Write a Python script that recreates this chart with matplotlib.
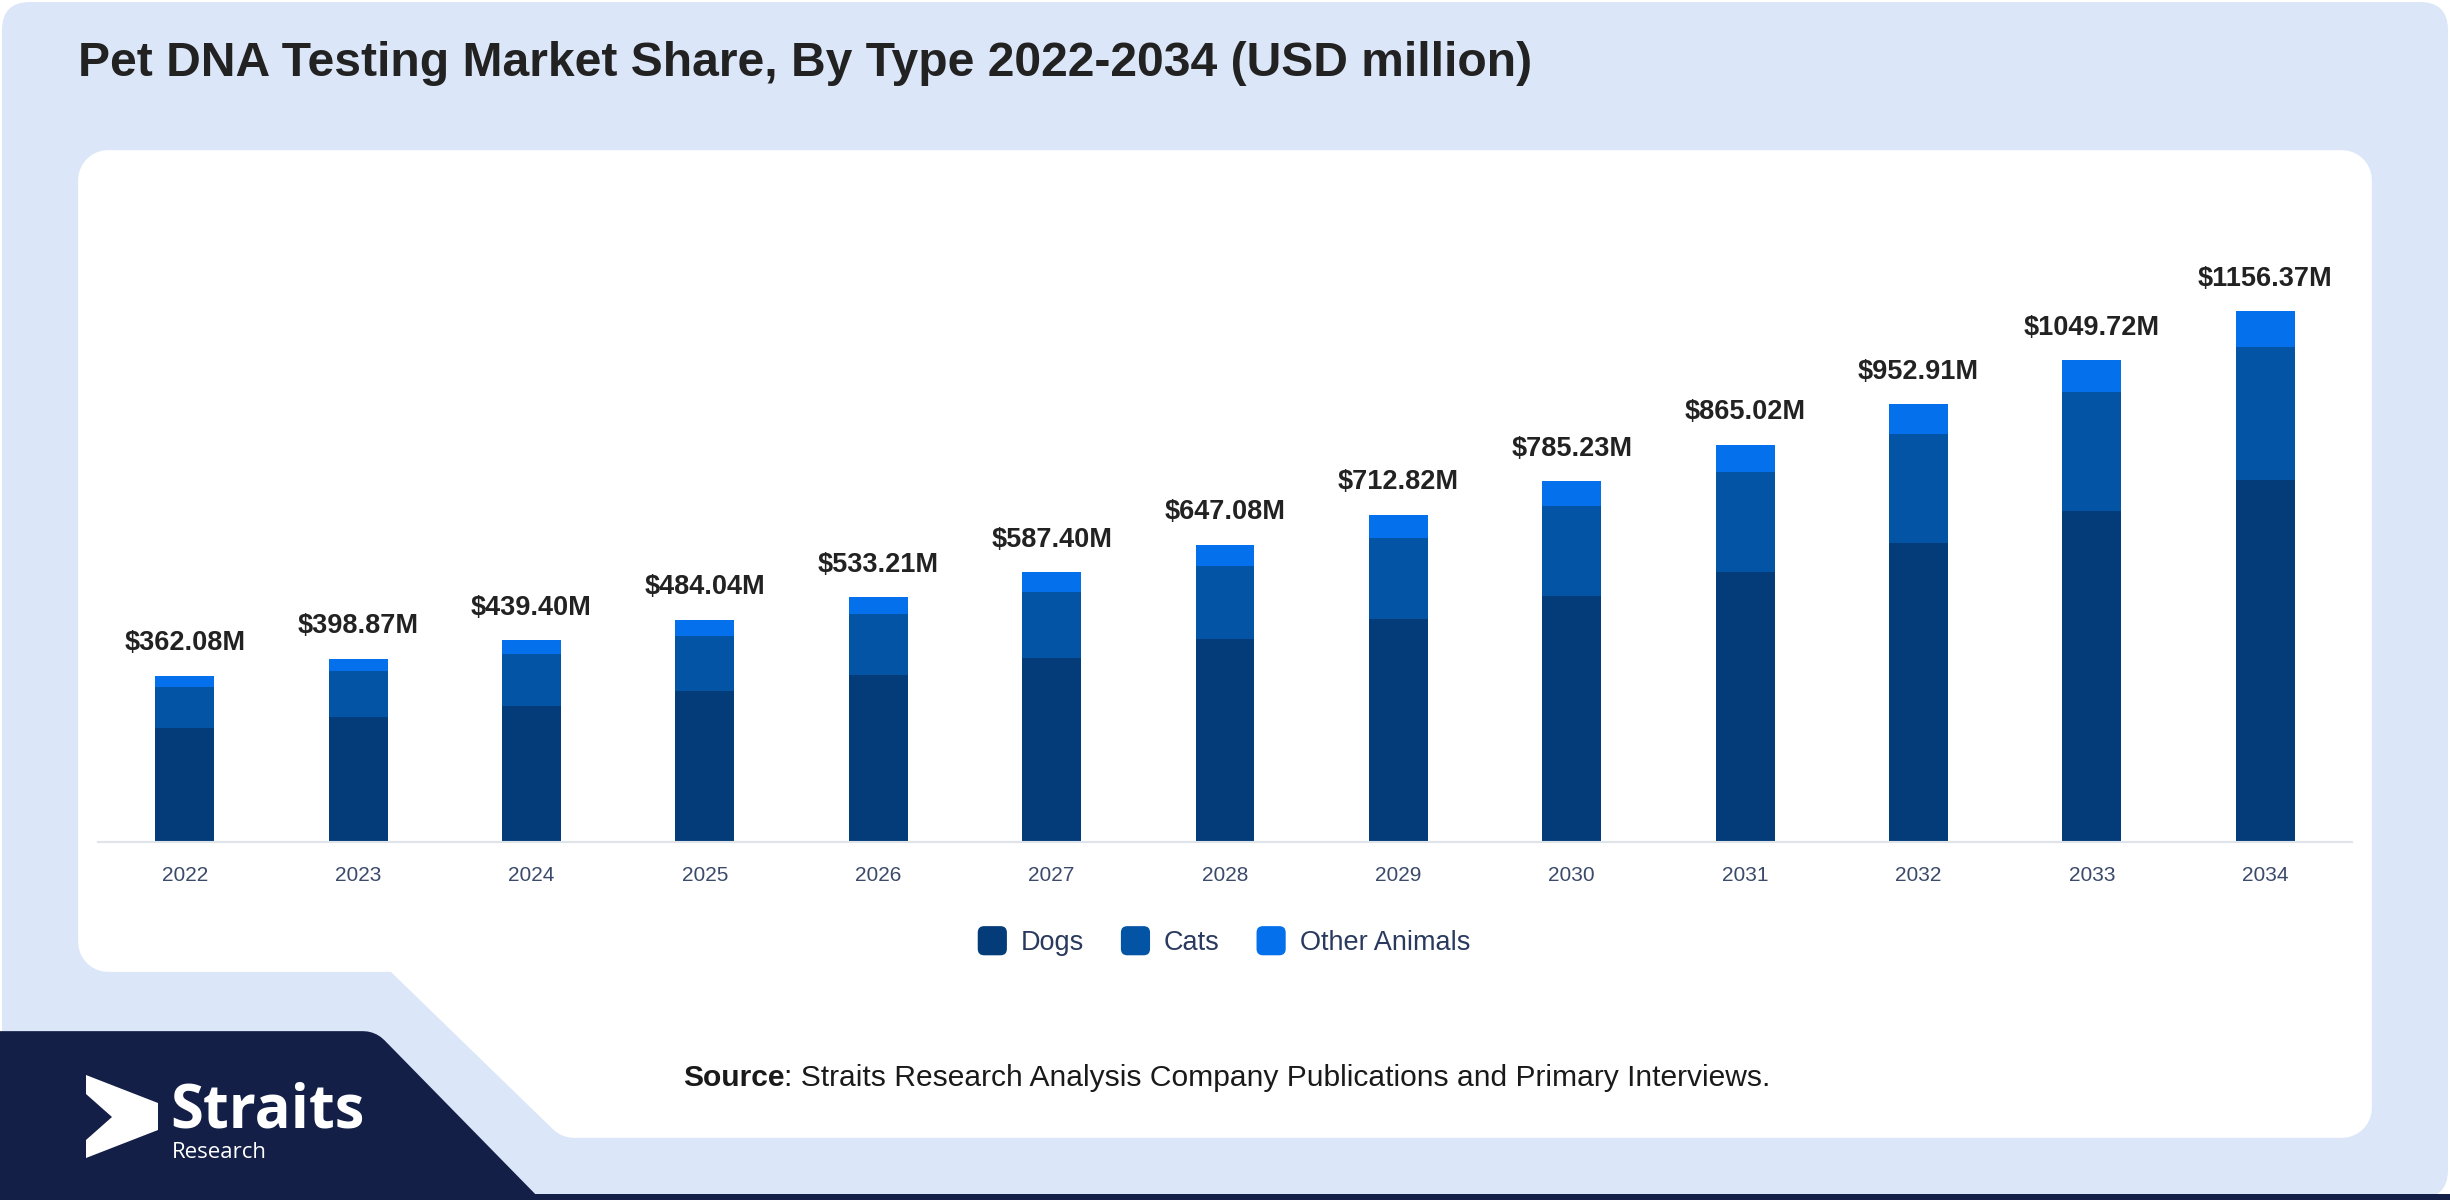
import matplotlib
matplotlib.use("Agg")
import matplotlib.pyplot as plt
import matplotlib.patches as mpatches
from matplotlib.legend_handler import HandlerPatch
import numpy as np

plt.rcParams['font.family'] = ['Liberation Sans', 'DejaVu Sans']

# data (USD million)
years = ['2022', '2023', '2024', '2025', '2026', '2027', '2028',
         '2029', '2030', '2031', '2032', '2033', '2034']
dogs = [247.5, 272.0, 297.0, 329.0, 364.0, 401.0, 442.0,
        486.0, 536.0, 588.0, 652.0, 721.0, 789.0]
cats = [89.0, 99.5, 112.0, 120.5, 132.5, 143.5, 160.0,
        177.0, 195.0, 218.0, 235.5, 258.0, 289.0]
other = [25.58, 27.37, 30.40, 34.54, 36.71, 42.90, 45.08,
         49.82, 54.23, 59.02, 65.41, 70.72, 78.37]
totals = [362.08, 398.87, 439.40, 484.04, 533.21, 587.40, 647.08,
          712.82, 785.23, 865.02, 952.91, 1049.72, 1156.37]
series_names = ['Dogs', 'Cats', 'Other Animals']
series_colors = ['#033c79', '#0454a5', '#0570eb']

W, H = 2450, 1200
fig = plt.figure(figsize=(W / 100, H / 100), dpi=100, facecolor='white')

# background layer in pixel coordinates (y down)
bg = fig.add_axes([0, 0, 1, 1])
bg.set_xlim(0, W)
bg.set_ylim(H, 0)
bg.axis('off')

light = '#dbe7f8'
navy = '#131f47'
bg.add_patch(mpatches.FancyBboxPatch((2, 2), W - 4, H - 4,
                                     boxstyle='round,pad=0,rounding_size=28',
                                     fc=light, ec='none'))

# white card with slanted lower-left notch (rounded via thick round joins)
card = [(108, 180), (2342, 180), (2342, 1108), (574, 1108), (403, 942), (108, 942)]
bg.add_patch(mpatches.Polygon(card, closed=True, fc='white', ec='white',
                              lw=43, joinstyle='round'))

# navy logo block bottom-left
block = [(-100, 1061), (363, 1061), (560, 1262), (-100, 1262)]
bg.add_patch(mpatches.Polygon(block, closed=True, fc=navy, ec=navy,
                              lw=43, joinstyle='round'))
bg.add_patch(mpatches.Rectangle((0, 1194), W, 6, fc=navy, ec='none'))

# logo arrow
arrow = [(86, 1075), (158, 1103), (158, 1130), (86, 1158),
         (86, 1140), (112, 1117), (86, 1094)]
bg.add_patch(mpatches.Polygon(arrow, closed=True, fc='white', ec='none'))
bg.text(170, 1128, 'Straits', fontsize=43, fontweight='bold', color='white',
        family='Open Sans', va='baseline', ha='left')
bg.text(172, 1158, 'Research', fontsize=16, color='white',
        family='Open Sans', va='baseline', ha='left')

# title
fig.text(78 / W, 1 - 63 / H, 'Pet DNA Testing Market Share, By Type 2022-2034 (USD million)',
         fontsize=34.6, fontweight='bold', color='#222222', va='center', ha='left')

# chart
ax = fig.add_axes([98 / W, 1 - 842 / H, (2352 - 98) / W, 608 / H])
ax.set_facecolor('none')
x = np.arange(len(years))
bar_w = 0.34
bottom = np.zeros(len(years))
for vals, name, col in zip([dogs, cats, other], series_names, series_colors):
    ax.bar(x, vals, bar_w, bottom=bottom, color=col, label=name, zorder=2)
    bottom += np.array(vals)

for xi, tot in zip(x, totals):
    ax.annotate(f'${tot:.2f}M', (xi, tot), xytext=(0, 14), textcoords='offset points',
                ha='center', va='bottom', fontsize=19.5, fontweight='bold', color='#222222')

ax.set_xlim(-0.5, 12.5)
ax.set_ylim(0, 1324)
ax.set_xticks(x)
ax.set_xticklabels(years, fontsize=15, color='#3b4a6b')
ax.tick_params(axis='x', length=0, pad=17)
ax.set_yticks([])
for s in ['top', 'right', 'left']:
    ax.spines[s].set_visible(False)
ax.spines['bottom'].set_color('#dfe3ea')
ax.spines['bottom'].set_linewidth(1.5)


class RoundSquare(HandlerPatch):
    def create_artists(self, legend, orig_handle, xdescent, ydescent,
                       width, height, fontsize, trans):
        size = height * 1.35
        cx = width / 2 - xdescent
        cy = height / 2 - ydescent
        p = mpatches.FancyBboxPatch((cx - size / 2, cy - size / 2), size, size,
                                    boxstyle=f'round,pad=0,rounding_size={size * 0.22}',
                                    fc=orig_handle.get_facecolor(), ec='none',
                                    transform=trans)
        return [p]


handles = [mpatches.Patch(color=c, label=n) for n, c in zip(series_names, series_colors)]
leg = fig.legend(handles=handles, loc='center', bbox_to_anchor=(1223 / W, 1 - 943 / H),
                 ncol=3, frameon=False, fontsize=19.5, handlelength=1.2, handleheight=0.85,
                 handletextpad=0.45, columnspacing=1.3,
                 handler_map={mpatches.Patch: RoundSquare()})
for t in leg.get_texts():
    t.set_color('#2a3a5e')

# source line
t1 = fig.text(683 / W, 1 - 1078 / H, 'Source', fontsize=21.6, fontweight='bold',
              color='#1a1a1a', va='center', ha='left')
fig.canvas.draw()
bb = t1.get_window_extent(renderer=fig.canvas.get_renderer())
fig.text(bb.x1 / W, 1 - 1078 / H,
         ': Straits Research Analysis Company Publications and Primary Interviews.',
         fontsize=21.6, color='#1a1a1a', va='center', ha='left')

fig.savefig('out.png', dpi=100, facecolor=fig.get_facecolor())
